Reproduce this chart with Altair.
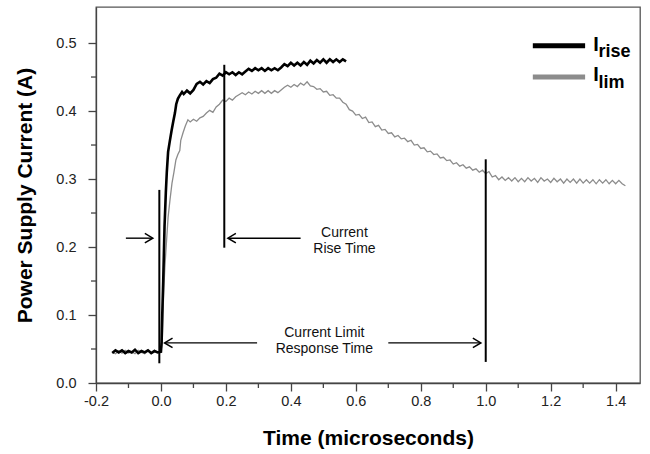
import altair as alt
import pandas as pd

FONT = "Liberation Sans"

# ---------------- data ----------------
t_rise = [-0.15, -0.14, -0.13, -0.12, -0.11, -0.10, -0.09, -0.08, -0.07, -0.06,
          -0.05, -0.04, -0.03, -0.02, -0.01, 0.0,
          0.002, 0.004, 0.007, 0.009, 0.011, 0.015, 0.018, 0.022, 0.027, 0.033,
          0.038, 0.043, 0.047, 0.052, 0.058, 0.065,
          0.07, 0.08, 0.09, 0.10, 0.11, 0.12, 0.13, 0.14, 0.15, 0.16, 0.17, 0.18,
          0.19, 0.20, 0.21, 0.22, 0.23, 0.24, 0.25, 0.26, 0.27, 0.28, 0.29, 0.30,
          0.31, 0.32, 0.33, 0.34, 0.35, 0.36, 0.37, 0.38, 0.39, 0.40, 0.41, 0.42,
          0.43, 0.44, 0.45, 0.46, 0.47, 0.48, 0.49, 0.50, 0.51, 0.52, 0.53, 0.54,
          0.55, 0.56, 0.57]
i_rise = [0.044, 0.048, 0.045, 0.048, 0.044, 0.047, 0.045, 0.049, 0.044, 0.047,
          0.045, 0.048, 0.044, 0.047, 0.045, 0.046,
          0.06, 0.10, 0.15, 0.19, 0.23, 0.28, 0.31, 0.34, 0.355, 0.372,
          0.385, 0.397, 0.41, 0.418, 0.423, 0.428,
          0.425, 0.430, 0.426, 0.431, 0.440, 0.443, 0.439, 0.444, 0.441, 0.447, 0.449, 0.455,
          0.452, 0.457, 0.454, 0.457, 0.453, 0.457, 0.454, 0.458, 0.462, 0.459, 0.463, 0.460,
          0.463, 0.459, 0.463, 0.460, 0.463, 0.460, 0.464, 0.469, 0.466, 0.471, 0.467, 0.471,
          0.467, 0.472, 0.468, 0.474, 0.470, 0.475, 0.471, 0.476, 0.471, 0.476, 0.472, 0.476,
          0.472, 0.476, 0.473]

t_lim = [-0.15, -0.14, -0.13, -0.12, -0.11, -0.10, -0.09, -0.08, -0.07, -0.06,
         -0.05, -0.04, -0.03, -0.02, -0.01, 0.0,
         0.004, 0.006, 0.009, 0.012, 0.016, 0.022, 0.028, 0.034, 0.040, 0.046,
         0.052, 0.058, 0.061, 0.068, 0.075, 0.083,
         0.09, 0.10, 0.11, 0.12, 0.13, 0.14, 0.15, 0.16, 0.17, 0.18, 0.19, 0.20,
         0.21, 0.22, 0.23, 0.24, 0.25, 0.26, 0.27, 0.28, 0.29, 0.30, 0.31, 0.32,
         0.33, 0.34, 0.35, 0.36, 0.37, 0.38, 0.39, 0.40, 0.41, 0.42, 0.43, 0.44,
         0.45, 0.46, 0.47, 0.48, 0.49, 0.50, 0.51, 0.52, 0.53, 0.54, 0.55, 0.56,
         0.57, 0.58, 0.59, 0.60, 0.61, 0.62, 0.63, 0.64, 0.65, 0.66, 0.67, 0.68,
         0.69, 0.70, 0.71, 0.72, 0.73, 0.74, 0.75, 0.76, 0.77, 0.78, 0.79, 0.80,
         0.81, 0.82, 0.83, 0.84, 0.85, 0.86, 0.87, 0.88, 0.89, 0.90, 0.91, 0.92,
         0.93, 0.94, 0.95, 0.96, 0.97, 0.98, 0.99, 1.00, 1.01, 1.02, 1.03, 1.04,
         1.05, 1.06, 1.07, 1.08, 1.09, 1.10, 1.11, 1.12, 1.13, 1.14, 1.15, 1.16,
         1.17, 1.18, 1.19, 1.20, 1.21, 1.22, 1.23, 1.24, 1.25, 1.26, 1.27, 1.28,
         1.29, 1.30, 1.31, 1.32, 1.33, 1.34, 1.35, 1.36, 1.37, 1.38, 1.39, 1.40,
         1.41, 1.42, 1.43]
i_lim = [0.045, 0.043, 0.047, 0.044, 0.048, 0.044, 0.046, 0.043, 0.048, 0.045,
         0.043, 0.047, 0.044, 0.048, 0.045, 0.046,
         0.06, 0.10, 0.14, 0.17, 0.20, 0.244, 0.27, 0.294, 0.31, 0.328,
         0.336, 0.342, 0.357, 0.368, 0.378, 0.387,
         0.384, 0.388, 0.385, 0.390, 0.392, 0.397, 0.401, 0.398, 0.406, 0.410, 0.416, 0.414,
         0.419, 0.416, 0.421, 0.424, 0.427, 0.424, 0.428, 0.425, 0.429, 0.426, 0.430, 0.426,
         0.430, 0.426, 0.430, 0.427, 0.431, 0.435, 0.438, 0.435, 0.439, 0.436, 0.441, 0.438,
         0.443, 0.437, 0.436, 0.432, 0.433, 0.428, 0.429, 0.423, 0.424, 0.419, 0.419, 0.413,
         0.410, 0.402, 0.400, 0.394, 0.395, 0.389, 0.391, 0.383, 0.384, 0.377, 0.379, 0.372,
         0.373, 0.367, 0.368, 0.362, 0.364, 0.359, 0.360, 0.355, 0.357, 0.350, 0.351, 0.345,
         0.346, 0.340, 0.341, 0.336, 0.337, 0.331, 0.332, 0.327, 0.328, 0.322, 0.324, 0.319,
         0.321, 0.316, 0.318, 0.313, 0.315, 0.310, 0.313, 0.308, 0.311, 0.303, 0.305, 0.299,
         0.303, 0.298, 0.302, 0.297, 0.302, 0.296, 0.301, 0.296, 0.302, 0.297, 0.301, 0.295,
         0.302, 0.297, 0.300, 0.295, 0.301, 0.296, 0.300, 0.294, 0.300, 0.295, 0.300, 0.294,
         0.300, 0.294, 0.299, 0.294, 0.299, 0.293, 0.299, 0.294, 0.299, 0.293, 0.298, 0.293,
         0.298, 0.293, 0.290]

x_major = [-0.2, 0.0, 0.2, 0.4, 0.6, 0.8, 1.0, 1.2, 1.4]
x_minor = [-0.1, 0.1, 0.3, 0.5, 0.7, 0.9, 1.1, 1.3]
y_major = [0.0, 0.1, 0.2, 0.3, 0.4, 0.5]
y_minor = [0.05, 0.15, 0.25, 0.35, 0.45]

# annotations
vl_t = [-0.005, 0.195, 1.0]
vl_y1 = [0.029, 0.199, 0.031]
vl_y2 = [0.284, 0.468, 0.329]

arr_x1 = [-0.108, 0.43, 0.296, 0.70]
arr_x2 = [-0.028, 0.209, 0.014, 0.982]
arr_y = [0.213, 0.213, 0.059, 0.059]
head_r_t = [-0.025, 0.985]
head_r_y = [0.213, 0.059]
head_l_t = [0.206, 0.011]
head_l_y = [0.213, 0.059]

note_text = ["Current", "Rise Time", "Current Limit", "Response Time"]
note_t = [0.565, 0.565, 0.503, 0.503]
note_y = [0.221, 0.197, 0.0735, 0.050]

leg_x1 = [1.145, 1.145]
leg_x2 = [1.306, 1.306]
leg_y = [0.496, 0.450]
leg_color = ["#000000", "#8c8c8c"]
leg_main_t = [1.331, 1.331]
leg_main_y = [0.489, 0.444]
leg_sub = ["rise", "lim"]
leg_sub_t = [1.347, 1.347]
leg_sub_y = [0.479, 0.434]

# ---------------- chart ----------------
df_rise = pd.DataFrame({"t": t_rise, "i": i_rise})
df_lim = pd.DataFrame({"t": t_lim, "i": i_lim})

xs = alt.Scale(domain=[-0.2, 1.475], nice=False, zero=False)
ys = alt.Scale(domain=[0, 0.553], nice=False, zero=False)

common_axis = dict(domainColor="#444", domainWidth=1.3, tickColor="#444", tickWidth=1.3,
                   labelFont=FONT, labelFontSize=14.5, labelColor="#222", labelFlush=False,
                   titleFont=FONT, titleFontSize=21, titleFontWeight="bold", titleColor="#000",
                   grid=False)

x_axis = alt.Axis(orient="bottom", values=x_major, tickSize=8, labelPadding=3,
                  labelExpr="replace(format(datum.value, '.1f'), '\u2212', '-')",
                  title="Time (microseconds)", titleBaseline="middle", titleY=55,
                  **common_axis)
y_axis = alt.Axis(orient="left", values=y_major, tickSize=8, labelPadding=12,
                  labelExpr="format(datum.value, '.1f')",
                  title="Power Supply Current (A)", titleBaseline="middle",
                  titleX=-71, titleAngle=-90, **common_axis)


def X(field, axis=None):
    return alt.X(field, type="quantitative", scale=xs, axis=axis)


def Y(field, axis=None):
    return alt.Y(field, type="quantitative", scale=ys, axis=axis)


lim = alt.Chart(df_lim).mark_line(color="#8c8c8c", strokeWidth=1.3).encode(
    x=X("t", x_axis), y=Y("i", y_axis))
rise = alt.Chart(df_rise).mark_line(color="black", strokeWidth=2.6).encode(
    x=X("t", x_axis), y=Y("i", y_axis))

# minor ticks (positions from the scales)
minor_x = alt.Chart(pd.DataFrame({"v": x_minor})).mark_rule(
    color="#444", strokeWidth=1.3).encode(x=X("v", x_axis), y=alt.value(376), y2=alt.value(381))
minor_y = alt.Chart(pd.DataFrame({"v": y_minor})).mark_rule(
    color="#444", strokeWidth=1.3).encode(y=Y("v", y_axis), x=alt.value(0), x2=alt.value(-5))

vlines = alt.Chart(pd.DataFrame({"t": vl_t, "y1": vl_y1, "y2": vl_y2})).mark_rule(
    color="black", strokeWidth=2).encode(x=X("t", x_axis), y=Y("y1", y_axis), y2="y2")

arrows = alt.Chart(pd.DataFrame({"x1": arr_x1, "x2": arr_x2, "y": arr_y})).mark_rule(
    color="black", strokeWidth=1.4).encode(x=X("x1", x_axis), x2="x2", y=Y("y", y_axis))

chevron = "M-1,-0.6L0,0L-1,0.6"
heads_r = alt.Chart(pd.DataFrame({"t": head_r_t, "y": head_r_y})).mark_point(
    shape=chevron, filled=False, stroke="black", strokeWidth=1.5, size=256, opacity=1).encode(
    x=X("t", x_axis), y=Y("y", y_axis))
heads_l = alt.Chart(pd.DataFrame({"t": head_l_t, "y": head_l_y})).mark_point(
    shape=chevron, filled=False, stroke="black", strokeWidth=1.5, size=256, angle=180,
    opacity=1).encode(x=X("t", x_axis), y=Y("y", y_axis))

notes = alt.Chart(pd.DataFrame({"t": note_t, "y": note_y, "txt": note_text})).mark_text(
    font=FONT, fontSize=14, color="#111", align="center", baseline="middle").encode(
    x=X("t", x_axis), y=Y("y", y_axis), text="txt:N")

leg_lines = alt.Chart(pd.DataFrame({"x1": leg_x1, "x2": leg_x2, "y": leg_y, "c": leg_color})).mark_rule(
    strokeWidth=5).encode(x=X("x1", x_axis), x2="x2", y=Y("y", y_axis),
                          color=alt.Color("c:N", scale=None))
leg_main = alt.Chart(pd.DataFrame({"t": leg_main_t, "y": leg_main_y, "txt": ["I", "I"]})).mark_text(
    font=FONT, fontSize=20, fontWeight="bold", color="black", align="left",
    baseline="alphabetic").encode(x=X("t", x_axis), y=Y("y", y_axis), text="txt:N")
leg_subs = alt.Chart(pd.DataFrame({"t": leg_sub_t, "y": leg_sub_y, "txt": leg_sub})).mark_text(
    font=FONT, fontSize=18, fontWeight="bold", color="black", align="left",
    baseline="alphabetic").encode(x=X("t", x_axis), y=Y("y", y_axis), text="txt:N")

chart = alt.layer(lim, rise, minor_x, minor_y, vlines, arrows, heads_r, heads_l, notes,
                  leg_lines, leg_main, leg_subs).properties(
    width=544, height=376,
    autosize=alt.AutoSizeParams(type="none"),
    padding={"left": 96, "top": 7, "right": 10, "bottom": 71},
    background="white",
).configure_view(stroke="#555", strokeWidth=1.3)

chart.save("out.html", embed_options={"renderer": "svg", "actions": False})
